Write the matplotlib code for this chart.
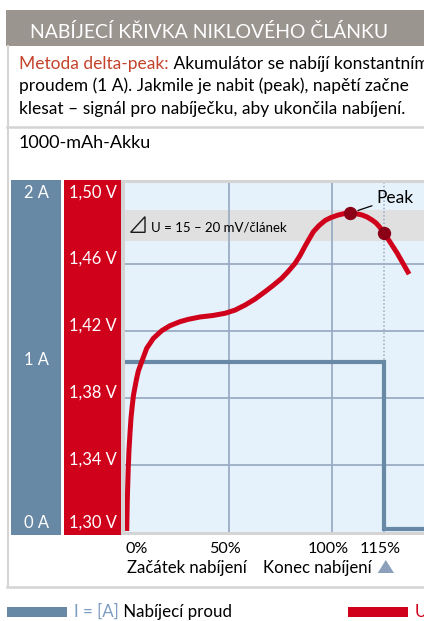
import matplotlib
matplotlib.use("Agg")
import matplotlib.pyplot as plt
from matplotlib.patches import Rectangle, Polygon
from matplotlib.lines import Line2D
import matplotlib.transforms as mtransforms

plt.rcParams['font.family'] = ['Lato', 'DejaVu Sans']

# ---------------- data ----------------
charge_pct = [0.82, 0.97, 1.11, 1.35, 1.59, 1.93, 2.42, 2.90, 3.53, 4.11, 4.83, 5.56,
              6.43, 8.07, 10.48, 13.67, 17.73, 21.74, 26.57, 30.58, 36.23, 42.51,
              48.31, 53.14, 57.97, 62.80, 67.63, 71.50, 75.70, 78.74, 82.13, 84.54,
              86.96, 88.89, 90.97, 93.72, 96.62, 99.52, 103.05, 105.80, 108.70,
              111.60, 114.49, 116.91, 119.32, 121.26, 123.19, 125.12, 128.02, 131.40,
              134.30, 137.20]
voltage_v = [1.3006, 1.3101, 1.3191, 1.3293, 1.3388, 1.3490, 1.3591, 1.3681, 1.3758,
             1.3818, 1.3866, 1.3913, 1.3961, 1.4017, 1.4097, 1.4156, 1.4202, 1.4232,
             1.4256, 1.4270, 1.4284, 1.4293, 1.4306, 1.4325, 1.4355, 1.4391, 1.4435,
             1.4472, 1.4515, 1.4555, 1.4604, 1.4651, 1.4707, 1.4749, 1.4793, 1.4830,
             1.4860, 1.4878, 1.4893, 1.4901, 1.4904, 1.4901, 1.4893, 1.4881, 1.4863,
             1.4845, 1.4818, 1.4785, 1.4731, 1.4666, 1.4603, 1.4540]
current_x = [0, 125, 125, 145]
current_a = [1, 1, 0, 0]
marker_x = [108.70, 125.12]
marker_v = [1.4904, 1.4785]
band_v = [1.4735, 1.4922]
x_ticks = [0, 50, 100, 125]
x_tick_labels = ["0%", "50%", "100%", "115%"]
v_ticks = [1.30, 1.34, 1.38, 1.42, 1.46, 1.50]
v_tick_labels = ["1,30 V", "1,34 V", "1,38 V", "1,42 V", "1,46 V", "1,50 V"]
i_ticks = [0, 1, 2]
i_tick_labels = ["0 A", "1 A", "2 A"]
v_grid = [1.34, 1.38, 1.42, 1.46]
x_grid = [50, 100]
x_end = 125

title = "NABÍJECÍ KŘIVKA NIKLOVÉHO ČLÁNKU"
desc_red = "Metoda delta-peak:"
desc_lines = [" Akumulátor se nabíjí konstantním",
              "proudem (1 A). Jakmile je nabit (peak), napětí začne",
              "klesat – signál pro nabíječku, aby ukončila nabíjení."]
subtitle = "1000-mAh-Akku"
band_label = "U = 15 – 20 mV/článek"
peak_label = "Peak"
start_label = "Začátek nabíjení"
end_label = "Konec nabíjení"
legend_i_unit = "I = [A]"
legend_i_text = " Nabíjecí proud"
legend_u = "U"

# ---------------- colours ----------------
C_TITLE = "#9b9590"
C_BLUE = "#6789a5"
C_RED = "#d0021b"
C_DOT = "#8c0017"
C_BG = "#e5f1fb"
C_GRID = "#9badc4"
C_BAND = "#e0e0e0"
C_FRAME = "#d4d4d4"
C_DESC_RED = "#c4432b"
C_LEG_BLUE = "#7c9cc0"
C_TRI = "#8c9fbb"

W, H = 424, 621
fig = plt.figure(figsize=(W / 100, H / 100), dpi=100)
fig.patch.set_facecolor("white")
renderer = fig.canvas.get_renderer()


def fx(px):
    return px / W


def fy(py):
    return 1 - py / H


def rect(x0, y0, x1, y1, color, z=0):
    fig.add_artist(Rectangle((fx(x0), fy(y1)), fx(x1) - fx(x0), fy(y0) - fy(y1),
                             transform=fig.transFigure, facecolor=color,
                             edgecolor="none", zorder=z))


def hline(x0, x1, y, color, lw):
    fig.add_artist(Line2D([fx(x0), fx(x1)], [fy(y), fy(y)], transform=fig.transFigure,
                          color=color, lw=lw, zorder=0))


def vline(x, y0, y1, color, lw):
    fig.add_artist(Line2D([fx(x), fx(x)], [fy(y0), fy(y1)], transform=fig.transFigure,
                          color=color, lw=lw, zorder=0))


def fit(t, width):
    w = t.get_window_extent(renderer).width
    t.set_fontsize(t.get_fontsize() * width / w)
    return t


def ftext(x, y, s, color="black", size=11, width=None, **kw):
    t = fig.text(fx(x), fy(y), s, color=color, fontsize=size, va="baseline",
                 ha="left", **kw)
    if width:
        fit(t, width)
    return t


# ---------------- frame / header ----------------
rect(6, 10, 424, 46, C_TITLE)
ftext(30, 37.5, title, color="white", size=13, width=358)
vline(7.5, 46, 587, C_FRAME, 1.5)
hline(7, 424, 126.5, C_FRAME, 1.8)
hline(7, 424, 587, C_FRAME, 1.8)

# description: measure the fitting size on line 2
t2 = ftext(19, 91.5, desc_lines[1], size=11, width=387)
fs = t2.get_fontsize()
tr = ftext(19, 68.5, desc_red, color=C_DESC_RED, size=fs)
wr = tr.get_window_extent(renderer).width
ftext(19 + wr, 68.5, desc_lines[0], size=fs)
ftext(19, 114.5, desc_lines[2], size=fs)
ftext(19, 148.3, subtitle, size=fs, width=133)

# ---------------- columns ----------------
rect(11, 180, 61, 535, C_BLUE)
rect(64, 180, 121, 535, C_RED)
rect(121, 180, 424, 535, C_FRAME)

# ---------------- axes ----------------
ax_rect = [fx(125), fy(532), fx(424) - fx(125), fy(183) - fy(532)]
axV = fig.add_axes(ax_rect)
axV.set_facecolor(C_BG)
axV.set_xlim(0, 144.4)
axV.set_ylim(1.30, 1.5084)
axI = axV.twinx()
axI.set_ylim(-0.018, 2.07)
axC = axV.twinx()
axC.set_ylim(axV.get_ylim())
for a in (axV, axI, axC):
    for s in a.spines.values():
        s.set_visible(False)
    a.set_xticks([])
    a.set_yticks([])
axI.patch.set_visible(False)
axC.patch.set_visible(False)

axV.axhspan(band_v[0], band_v[1], color=C_BAND, lw=0, zorder=0.5)
for v in v_grid:
    axV.axhline(v, color=C_GRID, lw=1.3, zorder=1)
for x in x_grid:
    axV.axvline(x, color=C_GRID, lw=1.3, zorder=1)
axV.axvline(x_end, color=C_GRID, lw=1.1, ls=(0, (1, 1.4)), zorder=1)

axI.plot(current_x, current_a, color=C_BLUE, lw=3.0, solid_joinstyle="miter",
         solid_capstyle="butt", clip_on=True)

axC.plot(charge_pct, voltage_v, color=C_RED, lw=3.6, solid_joinstyle="round",
         solid_capstyle="butt")
axC.plot(marker_x, marker_v, "o", color=C_DOT, ms=9.6, mec="none")
axC.annotate(peak_label, xy=(marker_x[0], marker_v[0]), xytext=(26, 10),
             textcoords="offset pixels", ha="left", va="baseline", fontsize=fs,
             arrowprops=dict(arrowstyle="-", lw=0.9, color="black",
                             shrinkA=1, shrinkB=6))

# band label with right-triangle sign
fig.add_artist(Polygon([[fx(130.7), fy(232.3)], [fx(145), fy(216.7)], [fx(145), fy(232.3)]],
                       closed=True, transform=fig.transFigure, facecolor="none",
                       edgecolor="#1a1a1a", lw=1.0))
ftext(151, 231.7, band_label, size=10, width=136)

# ---------------- axis labels ----------------
ylab_tr = axV.get_yaxis_transform()
v_offsets = [4, 0, 0, 0, 0, -1]
for v, lab, off in zip(v_ticks, v_tick_labels, v_offsets):
    t = axV.text(-8 / 299, v, lab, transform=mtransforms.offset_copy(
        ylab_tr, fig=fig, x=0, y=off, units="dots"), color="white", ha="right",
        va="baseline", fontsize=11)
    fit(t, 48)
    col_fs = t.get_fontsize()

ilab_tr = axI.get_yaxis_transform()
i_offsets = [1, -3, -3]
for i, lab, off in zip(i_ticks, i_tick_labels, i_offsets):
    axI.text(-89 / 299, i, lab, transform=mtransforms.offset_copy(
        ilab_tr, fig=fig, x=0, y=off, units="dots"), color="white", ha="center",
        va="baseline", fontsize=col_fs)

xlab_tr = axV.get_xaxis_transform()
for k, (x, lab) in enumerate(zip(x_ticks, x_tick_labels)):
    if k == 0:
        t = axV.text(x, -(552.7 - 532) / 349, lab, transform=xlab_tr, ha="left",
                     va="baseline", fontsize=11)
    else:
        t = axV.text(x, -(552.7 - 532) / 349, lab, transform=mtransforms.offset_copy(
            xlab_tr, fig=fig, x=-4, y=0, units="dots"), ha="center", va="baseline",
            fontsize=11)
    if lab == "100%":
        fit(t, 41)
        tick_fs = t.get_fontsize()
for t in axV.texts:
    if t.get_text() in x_tick_labels:
        t.set_fontsize(tick_fs)

ftext(126.7, 572.7, start_label, size=11, width=120)
ftext(262.7, 572.7, end_label, size=11, width=108)
fig.add_artist(Polygon([[fx(377.7), fy(573)], [fx(394), fy(573)], [fx(385.8), fy(560)]],
                       closed=True, transform=fig.transFigure, facecolor=C_TRI,
                       edgecolor="none"))

# ---------------- legend ----------------
rect(7, 607, 67, 617, C_BLUE)
rect(348, 607, 408, 617, C_RED)
tl = ftext(74, 617, legend_i_unit, color=C_LEG_BLUE, size=11)
tl2 = ftext(74 + tl.get_window_extent(renderer).width, 617, legend_i_text, size=11)
total = tl.get_window_extent(renderer).width + tl2.get_window_extent(renderer).width
sc = 157 / total
tl.set_fontsize(11 * sc)
tl2.set_fontsize(11 * sc)
tl2.set_x(fx(74 + tl.get_window_extent(renderer).width))
ftext(415, 617, legend_u, color=C_RED, size=11 * sc)

fig.savefig("out.png", dpi=100, facecolor="white")
